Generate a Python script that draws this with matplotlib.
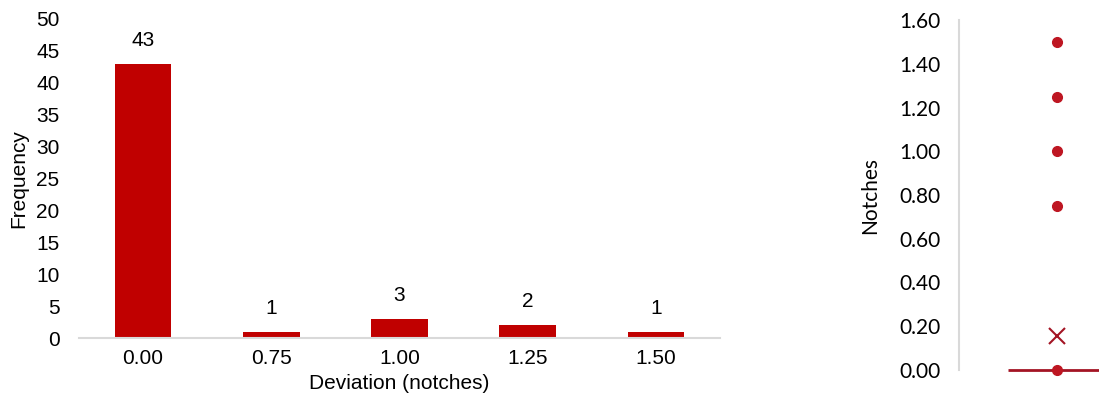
import matplotlib
matplotlib.use("Agg")
import matplotlib.pyplot as plt
import numpy as np

# Histogram data
categories = ["0.00", "0.75", "1.00", "1.25", "1.50"]
frequency = [43, 1, 3, 2, 1]
y_ticks_left = [0, 5, 10, 15, 20, 25, 30, 35, 40, 45, 50]

# Box plot summary (notches)
median_value = 0.00
mean_value = 0.155
outliers = [0.75, 1.00, 1.25, 1.50]
y_ticks_right = [0.00, 0.20, 0.40, 0.60, 0.80, 1.00, 1.20, 1.40, 1.60]

BAR = "#C00000"
DOT = "#BE1622"
LINE = "#A31424"
AXIS = "#D9D9D9"

fig = plt.figure(figsize=(10.99, 4.03), dpi=100)

# ---------- Left: histogram ----------
ax = fig.add_axes([79/1099, 1-338/403, (720-79)/1099, (338-19)/403])
x = np.arange(len(categories))
ax.bar(x, frequency, width=0.44, color=BAR, zorder=2)
for xi, v in zip(x, frequency):
    ax.text(xi, v + 2.2, str(v), ha="center", va="bottom",
            fontsize=15, family="Liberation Sans", color="#000000")
ax.set_xlim(-0.5, len(categories) - 0.5)
ax.set_ylim(0, 50)
ax.set_yticks(y_ticks_left)
ax.set_yticklabels([str(t) for t in y_ticks_left], family="Liberation Sans", fontsize=15)
ax.set_xticks(x)
ax.set_xticklabels(categories, family="Liberation Sans", fontsize=15)
ax.tick_params(axis="both", length=0, pad=8)
ax.tick_params(axis="y", pad=14)
for s in ["top", "right", "left"]:
    ax.spines[s].set_visible(False)
ax.spines["bottom"].set_color(AXIS)
ax.spines["bottom"].set_linewidth(1.5)
ax.set_xlabel("Deviation (notches)", family="Liberation Sans", fontsize=15, labelpad=4)
ax.set_ylabel("Frequency", family="Liberation Sans", fontsize=15, labelpad=6)

# ---------- Right: box plot ----------
ax2 = fig.add_axes([959/1099, 1-370/403, 140/1099, (370-20)/403])
ax2.set_xlim(0, 1)
ax2.set_ylim(0, 1.6)
cx = 0.7
hw = 0.35
ax2.plot([cx - hw, 1.0], [median_value, median_value], color=LINE, lw=2.0,
         solid_capstyle="butt", clip_on=False, zorder=3)
ax2.plot([cx], [median_value], "o", color=DOT, ms=7, clip_on=False, zorder=4)
ax2.plot([cx] * len(outliers), outliers, "o", color=DOT, ms=7, zorder=4)
ax2.plot([cx], [mean_value], marker="x", color=LINE, ms=12, mew=1.5, zorder=4)
ax2.set_yticks(y_ticks_right)
ax2.set_yticklabels([f"{t:.2f}" for t in y_ticks_right], family="Lato", fontsize=15)
ax2.set_xticks([])
ax2.tick_params(axis="y", length=0, pad=13)
for s in ["top", "right", "bottom"]:
    ax2.spines[s].set_visible(False)
ax2.spines["left"].set_color(AXIS)
ax2.spines["left"].set_linewidth(1.5)
ax2.set_ylabel("Notches", family="Lato", fontsize=15, labelpad=14)

fig.savefig("out.png", dpi=100)
